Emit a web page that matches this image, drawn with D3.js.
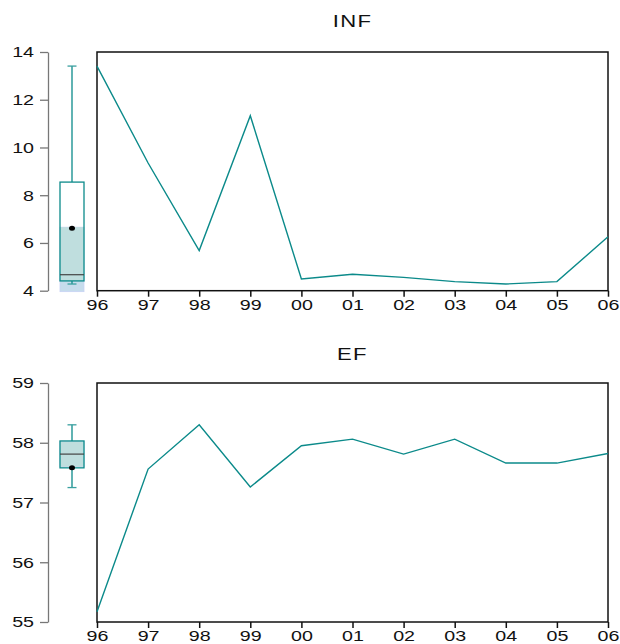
<!DOCTYPE html>
<html>
<head>
<meta charset="utf-8">
<script src="https://cdn.jsdelivr.net/npm/d3@7"></script>
<style>
  body { margin: 0; background: #fff; }
  text { font-family: "Liberation Sans", Arial, sans-serif; fill: #111; }
</style>
</head>
<body>
<svg id="mainsvg" width="620" height="644"></svg>
<script>
// data
const years = ['96', '97', '98', '99', '00', '01', '02', '03', '04', '05', '06'];
const infValues = [13.41, 9.35, 5.68, 11.33, 4.49, 4.69, 4.56, 4.38, 4.28, 4.38, 6.26];
const efValues = [55.17, 57.56, 58.30, 57.26, 57.95, 58.06, 57.81, 58.06, 57.66, 57.66, 57.82];

// box stats: [low whisker, q1, median, q3, high whisker]
const infBox = [4.28, 4.41, 4.67, 8.55, 13.41];
const infMean = 6.62;
const infShade = [3.96, 6.66];
const efBox = [57.25, 57.58, 57.81, 58.03, 58.30];
const efMean = 57.58;
const efShade = [57.60, 58.02];

const infTicks = [4, 6, 8, 10, 12, 14];
const efTicks = [55, 56, 57, 58, 59];

const teal = '#0b8a8a';
const stretch = 'scale(1.27,1)';

var svg = d3.select('#mainsvg');

function panel(opts) {
  var x = d3.scalePoint().domain(years).range([97, 608]);
  var y = d3.scaleLinear().domain(opts.domain).range([opts.bottom, opts.top]);
  var g = svg.append('g');

  // title
  g.append('text')
    .attr('transform', 'translate(' + ((97 + 608) / 2) + ',' + opts.titleY + ') scale(1.3,1)')
    .attr('text-anchor', 'middle')
    .style('font-size', '17px')
    .style('letter-spacing', '1px')
    .text(opts.title);

  // left axis with box plot
  var ya = g.append('g')
    .attr('transform', 'translate(48,0)')
    .call(d3.axisLeft(y).tickValues(opts.ticks).tickSize(8).tickSizeOuter(0).tickFormat(d3.format('d')));
  ya.select('.domain').attr('stroke', '#777').attr('stroke-width', 1.3);
  ya.selectAll('.tick line').attr('stroke', '#777').attr('stroke-width', 1.3);
  ya.selectAll('.tick text')
    .attr('transform', stretch)
    .style('font-size', '15.5px')
    .style('font-family', '"Liberation Sans", Arial, sans-serif')
    .attr('fill', '#111');

  var b = opts.box, cx = 72, hw = 12, cw = 4.5;
  // shaded band (median confidence), lighter where it leaves the box
  g.append('rect')
    .attr('x', cx - hw).attr('width', hw * 2)
    .attr('y', y(opts.shade[1])).attr('height', y(opts.shade[0]) - y(opts.shade[1]))
    .attr('fill', '#c6dcec').attr('stroke', '#c9d3f4').attr('stroke-width', 0.8);
  var s0 = Math.max(opts.shade[0], b[1]), s1 = Math.min(opts.shade[1], b[3]);
  g.append('rect')
    .attr('x', cx - hw).attr('width', hw * 2)
    .attr('y', y(s1)).attr('height', y(s0) - y(s1))
    .attr('fill', '#bfdede');
  // whiskers
  g.append('line').attr('x1', cx).attr('x2', cx).attr('y1', y(b[4])).attr('y2', y(b[3]))
    .attr('stroke', teal).attr('stroke-width', 1.3);
  g.append('line').attr('x1', cx).attr('x2', cx).attr('y1', y(b[1])).attr('y2', y(b[0]))
    .attr('stroke', teal).attr('stroke-width', 1.3);
  [b[0], b[4]].forEach(function(v) {
    g.append('line').attr('x1', cx - cw).attr('x2', cx + cw).attr('y1', y(v)).attr('y2', y(v))
      .attr('stroke', '#3aa0a0').attr('stroke-width', 1.3);
  });
  // box
  g.append('rect')
    .attr('x', cx - hw).attr('width', hw * 2)
    .attr('y', y(b[3])).attr('height', y(b[1]) - y(b[3]))
    .attr('fill', 'none').attr('stroke', teal).attr('stroke-width', 1.3);
  g.append('line').attr('x1', cx - hw).attr('x2', cx + hw).attr('y1', y(b[2])).attr('y2', y(b[2]))
    .attr('stroke', '#444').attr('stroke-width', 1.2);
  g.append('ellipse').attr('cx', cx).attr('cy', y(opts.mean)).attr('rx', 3).attr('ry', 2.5).attr('fill', '#000');

  // frame
  g.append('rect')
    .attr('x', 97).attr('y', opts.top)
    .attr('width', 608 - 97).attr('height', opts.bottom - opts.top)
    .attr('fill', 'none').attr('stroke', '#111').attr('stroke-width', 1.5);

  // bottom axis
  var xa = g.append('g')
    .attr('transform', 'translate(0,' + opts.bottom + ')')
    .call(d3.axisBottom(x).tickSize(6).tickPadding(2).tickSizeOuter(0));
  xa.select('.domain').remove();
  xa.selectAll('.tick line').attr('stroke', '#111').attr('stroke-width', 1.5);
  xa.selectAll('.tick text')
    .attr('transform', stretch)
    .style('font-size', '15.5px')
    .style('font-family', '"Liberation Sans", Arial, sans-serif')
    .attr('fill', '#111');

  // series
  var line = d3.line()
    .x(function(d, i) { return x(years[i]); })
    .y(function(d) { return y(d); });
  g.append('path')
    .datum(opts.values)
    .attr('d', line)
    .attr('fill', 'none')
    .attr('stroke', teal)
    .attr('stroke-width', 1.4);
}

panel({ title: 'INF', titleY: 27, top: 52, bottom: 290.7, domain: [4, 14], ticks: infTicks,
        values: infValues, box: infBox, mean: infMean, shade: infShade });
panel({ title: 'EF', titleY: 360, top: 383, bottom: 622, domain: [55, 59], ticks: efTicks,
        values: efValues, box: efBox, mean: efMean, shade: efShade });
</script>
</body>
</html>
